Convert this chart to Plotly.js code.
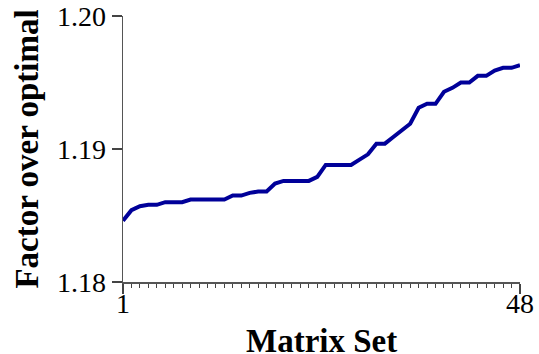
<!DOCTYPE html>
<html>
<head>
<meta charset="utf-8">
<script src="https://cdn.plot.ly/plotly-3.0.1.min.js"></script>
<style>html,body{margin:0;padding:0;background:#fff;}#chart{width:539px;height:354px;}</style>
</head>
<body>
<div id="chart"></div>
<script>
var matrixSet = [1,2,3,4,5,6,7,8,9,10,11,12,13,14,15,16,17,18,19,20,21,22,23,24,25,26,27,28,29,30,31,32,33,34,35,36,37,38,39,40,41,42,43,44,45,46,47,48];
var factorOverOptimal = [1.1846,1.1854,1.1857,1.1858,1.1858,1.1860,1.1860,1.1860,1.1862,1.1862,1.1862,1.1862,1.1862,1.1865,1.1865,1.1867,1.1868,1.1868,1.1874,1.1876,1.1876,1.1876,1.1876,1.1879,1.1888,1.1888,1.1888,1.1888,1.1892,1.1896,1.1904,1.1904,1.1909,1.1914,1.1919,1.1931,1.1934,1.1934,1.1943,1.1946,1.1950,1.1950,1.1955,1.1955,1.1959,1.1961,1.1961,1.1963];
var yTickVals = [1.18, 1.19, 1.20];
var yTickText = ['1.18', '1.19', '1.20'];
var xTitle = 'Matrix Set';
var yTitle = 'Factor over optimal';

var trace = {
  x: matrixSet,
  y: factorOverOptimal,
  type: 'scatter',
  mode: 'lines',
  line: {color: 'rgb(0,0,153)', width: 4},
  cliponaxis: false,
  hoverinfo: 'none'
};

var fontFam = 'Liberation Serif, Times New Roman, serif';
var layout = {
  width: 539,
  height: 354,
  margin: {l: 123, r: 19, t: 16, b: 71.5, pad: 0},
  paper_bgcolor: '#fff',
  plot_bgcolor: '#fff',
  showlegend: false,
  font: {family: fontFam, color: '#000', size: 28},
  xaxis: {
    range: [1, 48],
    tickmode: 'linear',
    tick0: 1,
    dtick: 47,
    ticks: 'outside',
    ticklen: 10,
    tickwidth: 1.5,
    tickcolor: '#444',
    showline: true,
    linecolor: '#555',
    linewidth: 1.5,
    showgrid: false,
    zeroline: false,
    ticklabelstandoff: -14,
    tickfont: {family: fontFam, size: 28, color: '#000'},
    minor: {tickmode: 'linear', tick0: 1, dtick: 1, ticks: 'outside', ticklen: 4, tickwidth: 1, tickcolor: '#444', showgrid: false},
    automargin: false
  },
  yaxis: {
    range: [1.18, 1.20],
    tickmode: 'array',
    tickvals: yTickVals,
    ticktext: yTickText,
    ticks: 'outside',
    ticklen: 10,
    tickwidth: 1.5,
    tickcolor: '#444',
    showline: true,
    linecolor: '#555',
    linewidth: 1.5,
    showgrid: false,
    zeroline: false,
    tickfont: {family: fontFam, size: 28, color: '#000'},
    title: {text: '<b>' + yTitle + '</b>', font: {family: fontFam, size: 33, color: '#000'}, standoff: 8},
    automargin: false
  },
  annotations: [{
    text: '<b>' + xTitle + '</b>',
    xref: 'paper', yref: 'paper',
    x: 0.5, y: 0,
    xanchor: 'center', yanchor: 'top',
    yshift: -39,
    showarrow: false,
    font: {family: fontFam, size: 33, color: '#000'}
  }]
};

Plotly.newPlot('chart', [trace], layout, {displayModeBar: false, staticPlot: true});
</script>
</body>
</html>
